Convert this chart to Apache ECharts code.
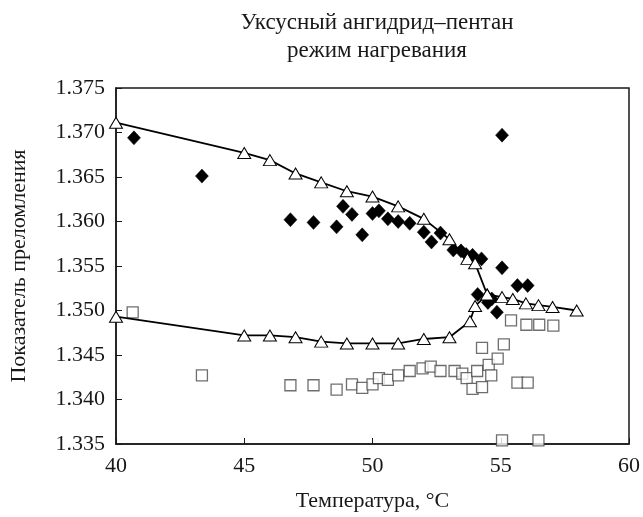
<!DOCTYPE html>
<html><head><meta charset="utf-8">
<script src="https://cdn.jsdelivr.net/npm/echarts@6/dist/echarts.min.js"></script>
<style>html,body{margin:0;padding:0;background:#fff}#c{width:643px;height:517px}</style>
</head><body><div id="c"></div>
<script>
var titleLines = ['Уксусный ангидрид–пентан', 'режим нагревания'];
var xName = 'Температура, °С';
var yName = 'Показатель преломления';

var upperX = [40, 45, 46, 47, 48, 49, 50, 51, 52, 53, 53.7, 54, 54.47, 55.05, 55.47, 55.98, 56.47, 57.02, 57.96];
var upperY = [1.3711, 1.3677, 1.3669, 1.3654, 1.3644, 1.3634, 1.3628, 1.3617, 1.3603, 1.3580, 1.3558, 1.3553, 1.3518, 1.3515, 1.3513, 1.3508, 1.3506, 1.3504, 1.3500];

var lowerX = [40, 45, 46, 47, 48, 49, 50, 51, 52, 53, 53.8, 54, 54.47];
var lowerY = [1.3493, 1.3472, 1.3472, 1.3470, 1.3465, 1.3463, 1.3463, 1.3463, 1.3468, 1.3470, 1.3488, 1.3505, 1.3518];

var diamX = [40.7, 43.35, 46.8, 47.7, 48.6, 48.85, 49.2, 49.6, 50.0, 50.25, 50.6, 51.0, 51.45, 52.0, 52.3, 52.65, 53.15, 53.45, 53.65, 53.9, 54.25, 55.05, 54.1, 54.5, 54.65, 54.85, 55.65, 56.05, 55.05];
var diamY = [1.3694, 1.3651, 1.3602, 1.3599, 1.3594, 1.3617, 1.3608, 1.3585, 1.3609, 1.3612, 1.3603, 1.3600, 1.3598, 1.3588, 1.3577, 1.3587, 1.3568, 1.3567, 1.3563, 1.3562, 1.3558, 1.3548, 1.3518, 1.3509, 1.3513, 1.3498, 1.3528, 1.3528, 1.3697];

var sqX = [40.65, 43.35, 46.8, 47.7, 48.6, 49.2, 49.6, 50.0, 50.25, 50.6, 51.0, 51.45, 51.95, 52.27, 52.65, 53.2, 53.5, 53.67, 53.9, 54.08, 54.27, 54.27, 54.53, 54.63, 54.88, 55.12, 55.4, 56.0, 56.5, 57.05, 55.65, 56.05, 55.05, 56.47];
var sqY = [1.3498, 1.3427, 1.3416, 1.3416, 1.3411, 1.3417, 1.3413, 1.3417, 1.3424, 1.3422, 1.3427, 1.3432, 1.3435, 1.3437, 1.3432, 1.3432, 1.3429, 1.3424, 1.3412, 1.3432, 1.3414, 1.3458, 1.3439, 1.3427, 1.3446, 1.3462, 1.3489, 1.3484, 1.3484, 1.3483, 1.3419, 1.3419, 1.3354, 1.3354];

function pairs(xs, ys) { return xs.map(function (x, i) { return [x, ys[i]]; }); }

var font = 'Liberation Serif';
var txt = '#1a1718';
var chart = echarts.init(document.getElementById('c'), null, {renderer: 'canvas'});
chart.setOption({
  animation: false,
  backgroundColor: '#fff',
  title: {
    text: titleLines.join('\n'),
    left: 377, top: 9, textAlign: 'center', padding: 0,
    textStyle: {fontFamily: font, fontSize: 23, fontWeight: 'normal', color: txt, lineHeight: 28}
  },
  grid: {left: 115, right: 12, top: 88, bottom: 67, show: true, borderColor: txt, borderWidth: 1.5},
  xAxis: {
    type: 'value', min: 40, max: 60, interval: 5,
    name: xName, nameLocation: 'middle', nameGap: 46,
    nameTextStyle: {fontFamily: font, fontSize: 22, color: txt},
    axisLine: {lineStyle: {color: txt, width: 1.5}},
    axisTick: {inside: true, length: 6, lineStyle: {color: txt, width: 1}},
    axisLabel: {fontFamily: font, fontSize: 22, color: txt, margin: 11},
    splitLine: {show: false}
  },
  yAxis: {
    type: 'value', min: 1.335, max: 1.375, interval: 0.005,
    name: yName, nameLocation: 'middle', nameGap: 86,
    nameTextStyle: {fontFamily: font, fontSize: 22, color: txt},
    axisLine: {lineStyle: {color: txt, width: 1.5}},
    axisTick: {inside: true, length: 6, lineStyle: {color: txt, width: 1}},
    axisLabel: {fontFamily: font, fontSize: 22, color: txt, margin: 11,
      formatter: function (v) { return v.toFixed(3); }},
    splitLine: {show: false}
  },
  series: [
    {type: 'scatter', data: pairs(sqX, sqY), symbol: 'rect', symbolSize: 11,
      itemStyle: {color: '#fff', borderColor: '#4a4a4a', borderWidth: 1.3}, z: 2},
    {type: 'scatter', data: pairs(diamX, diamY), symbol: 'diamond', symbolSize: [13, 14],
      itemStyle: {color: '#000', borderColor: '#000', borderWidth: 0.5, opacity: 1}, z: 3},
    {type: 'line', data: pairs(lowerX, lowerY), symbol: 'triangle', symbolSize: [13, 11],
      lineStyle: {color: '#000', width: 1.8}, itemStyle: {color: '#fff', borderColor: '#000', borderWidth: 1}, z: 4},
    {type: 'line', data: pairs(upperX, upperY), symbol: 'triangle', symbolSize: [13, 11],
      lineStyle: {color: '#000', width: 1.8}, itemStyle: {color: '#fff', borderColor: '#000', borderWidth: 1}, z: 4}
  ]
});
</script></body></html>
